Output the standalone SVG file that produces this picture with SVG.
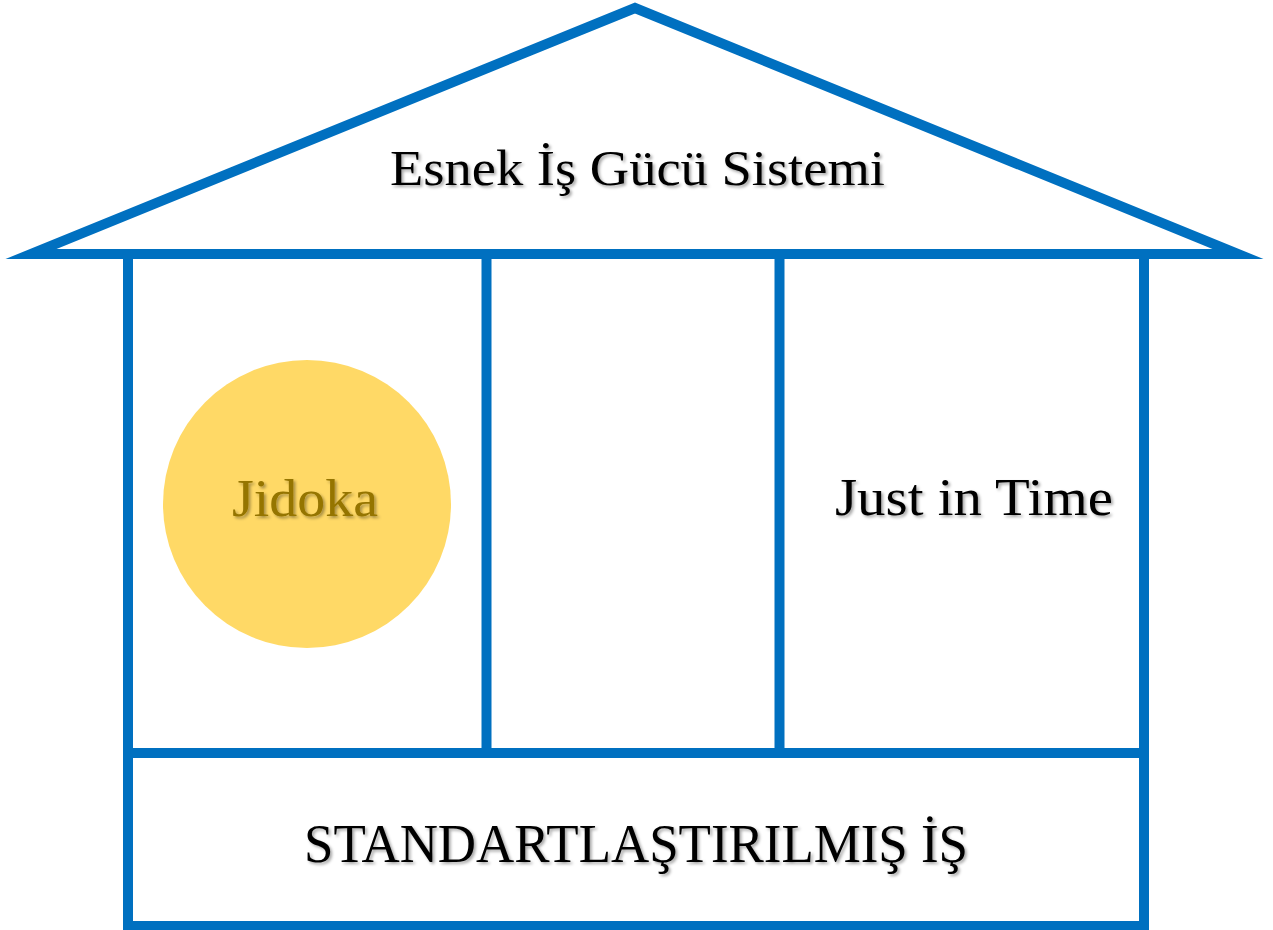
<svg xmlns="http://www.w3.org/2000/svg" width="1273" height="930" viewBox="0 0 1273 930">
<defs>
<filter id="sh" x="-10%" y="-30%" width="120%" height="160%">
<feDropShadow dx="2" dy="2" stdDeviation="1.5" flood-color="#000" flood-opacity="0.35"/>
</filter>
</defs>
<style>
.ln{fill:none;stroke:#0070C0;stroke-width:10}
.t{font-family:"Liberation Serif","Times New Roman",serif;fill:#000;filter:url(#sh)}
</style>
<rect width="1273" height="930" fill="#fff"/>
<g id="roof">
<polygon class="ln" points="635,8 31,254 1238,254" stroke-linejoin="miter" stroke-miterlimit="10"/>
<text class="t" x="390" y="185" font-size="50" textLength="495" lengthAdjust="spacingAndGlyphs">Esnek İş Gücü Sistemi</text>
</g>
<g id="walls">
<rect class="ln" x="128" y="254" width="1016" height="672"/>
</g>
<g id="connectors">
<line class="ln" x1="128" y1="753" x2="1144" y2="753"/>
<line class="ln" x1="486.5" y1="254" x2="486.5" y2="753"/>
<line class="ln" x1="779.5" y1="254" x2="779.5" y2="753"/>
</g>
<g id="jidoka">
<circle cx="307" cy="504" r="144" fill="#FFD966"/>
<text class="t" x="232" y="516" font-size="52" fill="#957400" style="fill:#957400" textLength="146" lengthAdjust="spacingAndGlyphs">Jidoka</text>
</g>
<g id="jit">
<text class="t" x="835" y="515" font-size="52" textLength="278" lengthAdjust="spacingAndGlyphs">Just in Time</text>
</g>
<g id="standard">
<text class="t" x="304" y="862" font-size="55" textLength="664" lengthAdjust="spacingAndGlyphs">STANDARTLAŞTIRILMIŞ İŞ</text>
</g>
</svg>
